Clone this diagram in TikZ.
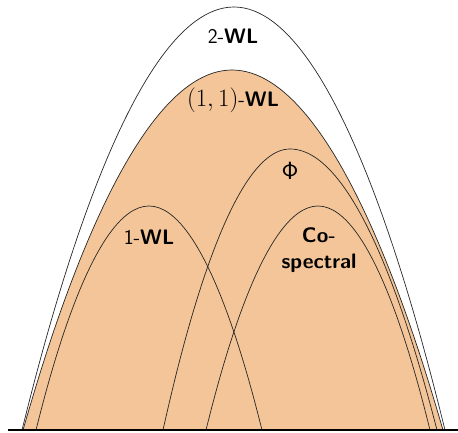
\documentclass[tikz,border=0pt]{standalone}
\begin{document}
\begin{tikzpicture}[x=1pt,y=1pt,
  arch/.style={draw=black!85, line width=0.7pt},
  lbl/.style={inner sep=0pt, font=\fontsize{21}{26}\selectfont\sffamily, align=center}]
\useasboundingbox (0,0) rectangle (458,432);
\definecolor{setfill}{RGB}{243,197,152}
\newcommand{\bigmath}[1]{{\fontsize{24.88}{26}\selectfont$#1$}}
% outer class
\path[arch, fill=white] (22,2) parabola bend (234,425) (445,2);
% shaded class
\path[arch, fill=setfill] (23,2) parabola bend (232,362) (443,2);
% inner classes
\draw[arch] (36,2) parabola bend (149,226) (262,2);
\draw[arch] (163,2) parabola bend (290,283) (437,2);
\draw[arch] (206,2) parabola bend (318,226) (430,2);
% ground line
\coordinate (gl) at (8,2);
\coordinate (gr) at (458,2);
\draw[line width=1.1pt] (gl) -- (gr);
% labels
\node[lbl] (twowl) at (233,396) {2-\textbf{WL}};
\node[lbl] (onewl11) at (233,332) {\bigmath{(1,1)}-\textbf{WL}};
\node[lbl] (onewl) at (149,195) {1-\textbf{WL}};
\node[lbl, font=\fontsize{24.88}{26}\selectfont] (phi) at (290,261) {$\mathsf{\Phi}$};
\node[lbl, font=\fontsize{21}{26}\selectfont\sffamily\bfseries] (cospec) at (319,182) {Co-\\spectral};
\end{tikzpicture}
\end{document}
